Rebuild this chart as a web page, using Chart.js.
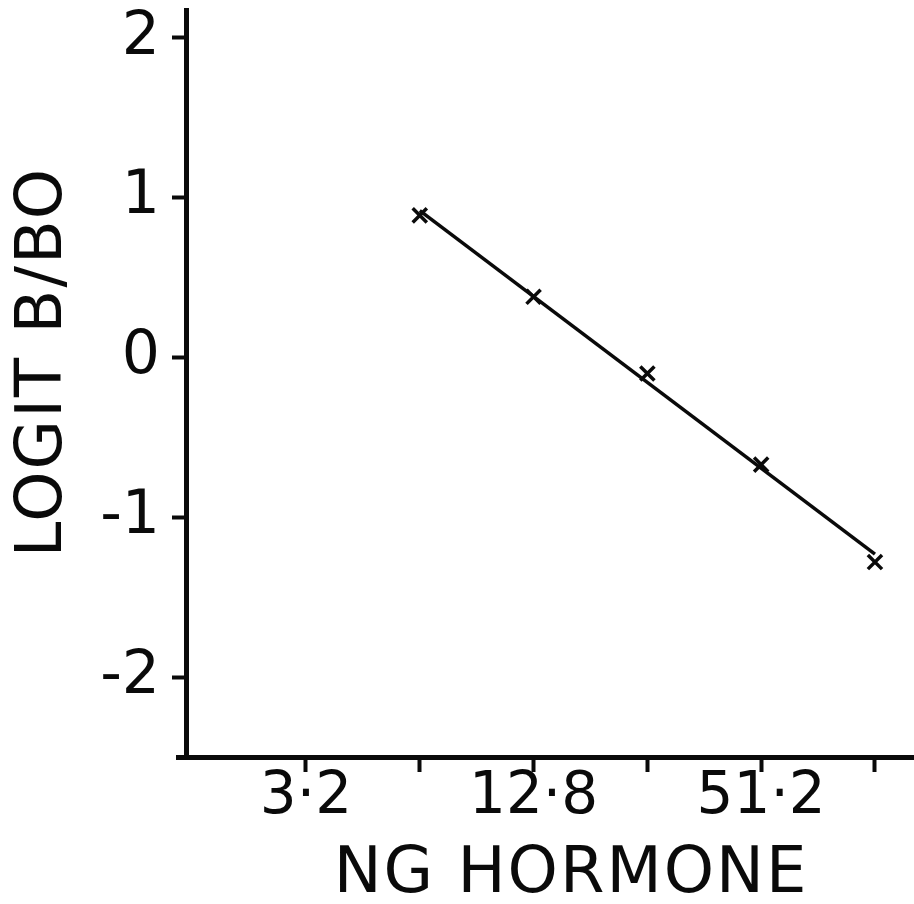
<!DOCTYPE html>
<html>
<head>
<meta charset="utf-8">
<title>Logit B/Bo vs hormone dose</title>
<script src="https://cdn.jsdelivr.net/npm/chart.js@4.4.1/dist/chart.umd.min.js"></script>
<style>
  html, body { margin: 0; padding: 0; background: #fff; }
  #wrap { width: 914px; height: 904px; }
</style>
</head>
<body>
<div id="wrap"><canvas id="c" width="914" height="904"></canvas></div>
<script>
// Hormone doses (ng) and measured logit B/Bo
const doses = [6.4, 12.8, 25.6, 51.2, 102.4];
const logitValues = [0.89, 0.38, -0.10, -0.67, -1.28];

// Fitted straight line, drawn between the lowest and highest dose
const fitDoses = [6.4, 102.4];
const fitValues = [0.92, -1.23];

// Axis ticks
const xTickValues = [3.2, 6.4, 12.8, 25.6, 51.2, 102.4];
const xTickLabels = ['3·2', '', '12·8', '', '51·2', ''];
const yTickValues = [-2, -1, 0, 1, 2];
const yTickLabels = ['-2', '-1', '0', '1', '2'];

const xTitle = 'NG HORMONE';
const yTitle = 'LOGIT B/BO';

const FONT = '"DejaVu Sans", "Liberation Sans", sans-serif';
const INK = '#0a0a0a';

// Axis titles plus the short run of the x axis past the y axis
const axisDecor = {
  id: 'axisDecor',
  afterDraw(chart) {
    const ctx = chart.ctx;
    const area = chart.chartArea;
    ctx.save();
    ctx.strokeStyle = INK;
    ctx.lineWidth = 5;
    ctx.beginPath();
    ctx.moveTo(area.left - 10, area.bottom + 0.5);
    ctx.lineTo(area.left, area.bottom + 0.5);
    ctx.stroke();

    ctx.fillStyle = INK;
    ctx.font = '64px ' + FONT;
    try { ctx.letterSpacing = '2px'; } catch (e) {}
    ctx.textAlign = 'center';
    ctx.textBaseline = 'alphabetic';
    ctx.fillText(xTitle, 571, 892);
    ctx.translate(61, 362);
    ctx.rotate(-Math.PI / 2);
    ctx.fillText(yTitle, 0, 0);
    ctx.restore();
  }
};

new Chart(document.getElementById('c'), {
  data: {
    datasets: [
      {
        type: 'line',
        label: 'fit',
        data: fitDoses.map((d, i) => ({ x: d, y: fitValues[i] })),
        borderColor: INK,
        borderWidth: 3.5,
        pointRadius: 0,
        fill: false,
        tension: 0
      },
      {
        type: 'scatter',
        label: 'logit',
        data: doses.map((d, i) => ({ x: d, y: logitValues[i] })),
        pointStyle: 'crossRot',
        pointRadius: 10,
        borderColor: INK,
        backgroundColor: INK,
        pointBorderWidth: 3.5
      }
    ]
  },
  options: {
    responsive: false,
    animation: false,
    devicePixelRatio: 1,
    layout: { autoPadding: false, padding: { top: 10, right: 0, bottom: 0, left: 0 } },
    plugins: { legend: { display: false }, tooltip: { enabled: false } },
    scales: {
      x: {
        type: 'logarithmic',
        min: 1.541,
        max: 129.9,
        afterBuildTicks(scale) {
          scale.ticks = xTickValues.map(v => ({ value: v }));
        },
        afterFit(scale) {
          scale.height = 147;
          scale.paddingLeft = 0;
          scale.paddingRight = 0;
        },
        ticks: {
          autoSkip: false,
          maxRotation: 0,
          minRotation: 0,
          padding: -9,
          color: INK,
          font: { family: FONT, size: 58 },
          callback(value, index) { return xTickLabels[index]; }
        },
        grid: {
          display: true,
          drawOnChartArea: false,
          drawTicks: true,
          tickLength: 15,
          tickWidth: 4,
          color: INK
        },
        border: { display: true, color: INK, width: 5 }
      },
      y: {
        type: 'linear',
        min: -2.5,
        max: 2.175,
        afterBuildTicks(scale) {
          scale.ticks = yTickValues.map(v => ({ value: v }));
        },
        afterFit(scale) {
          scale.width = 186;
          scale.paddingTop = 0;
          scale.paddingBottom = 0;
        },
        ticks: {
          padding: 12,
          color: INK,
          font: { family: FONT, size: 60 },
          callback(value, index) { return yTickLabels[index]; }
        },
        grid: {
          display: true,
          drawOnChartArea: false,
          drawTicks: true,
          tickLength: 14,
          tickWidth: 4,
          color: INK
        },
        border: { display: true, color: INK, width: 5 }
      }
    }
  },
  plugins: [axisDecor]
});
</script>
</body>
</html>
